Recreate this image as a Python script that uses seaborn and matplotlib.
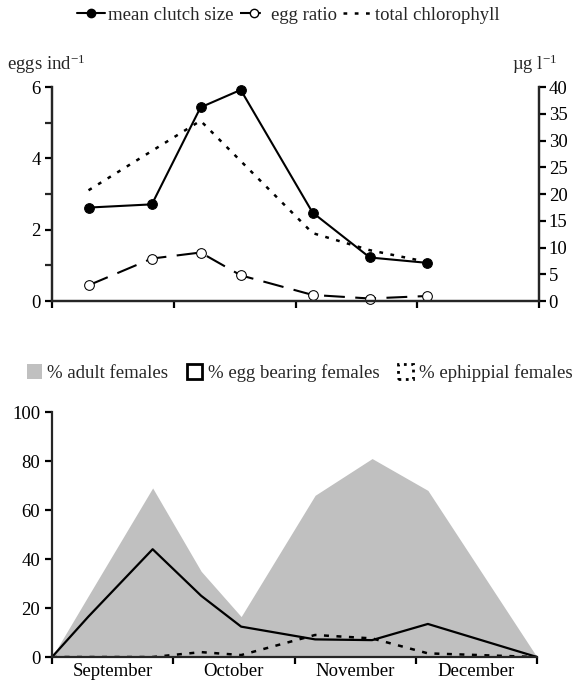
import numpy as np
import pandas as pd
import matplotlib
matplotlib.use("Agg")
import matplotlib.pyplot as plt
import seaborn as sns
from matplotlib.lines import Line2D
from matplotlib.patches import Patch

# -------------------------------
# Data
# -------------------------------
# x in month units: 0 = start of September, 4 = end of December
top_x = [0.30, 0.82, 1.22, 1.55, 2.14, 2.61, 3.08]
clutch = [2.62, 2.71, 5.43, 5.92, 2.48, 1.22, 1.07]
egg_ratio = [0.44, 1.19, 1.36, 0.72, 0.17, 0.07, 0.14]

chl_x = [0.30, 1.22, 2.14, 2.61, 3.08]
chlorophyll = [20.7, 33.7, 12.7, 9.5, 7.3]

bot_x = [0, 0.30, 0.83, 1.23, 1.56, 2.17, 2.64, 3.10, 4.0]
adult = [0, 25, 69, 35, 16.5, 66, 81, 68, 0]
egg_bearing = [0, 16.5, 44, 25, 12.4, 7.2, 6.9, 13.5, 0]
ephippial = [0, 0, 0, 2, 0.8, 9, 7.6, 1.5, 0]

months = ["September", "October", "November", "December"]

# -------------------------------
# Style
# -------------------------------
sns.set_style("ticks")
plt.rcParams['font.family'] = ['Liberation Serif', 'DejaVu Serif']
plt.rcParams['mathtext.fontset'] = 'custom'
plt.rcParams['mathtext.rm'] = 'Liberation Serif'
plt.rcParams['mathtext.default'] = 'regular'
plt.rcParams['axes.linewidth'] = 1.6
plt.rcParams['xtick.major.width'] = 1.6
plt.rcParams['ytick.major.width'] = 1.6
plt.rcParams['ytick.minor.width'] = 1.6
plt.rcParams['xtick.major.size'] = 5
plt.rcParams['ytick.major.size'] = 5
plt.rcParams['ytick.minor.size'] = 5
FS = 13.5

fig = plt.figure(figsize=(5.76, 6.81), dpi=100)

# -------------------------------
# Top panel
# -------------------------------
ax1 = fig.add_axes([0.0903, 0.558, 0.8455, 0.3142])
ax2 = ax1.twinx()

sns.lineplot(x=top_x, y=clutch, ax=ax1, color='black', lw=1.5,
             marker='o', markersize=7, markeredgecolor='black',
             markerfacecolor='black', clip_on=False)
sns.lineplot(x=top_x, y=egg_ratio, ax=ax1, color='black', lw=1.5,
             marker='o', markersize=7, markeredgecolor='black',
             markerfacecolor='white', clip_on=False)
ax1.lines[-1].set_dashes([10, 5])
sns.lineplot(x=chl_x, y=chlorophyll, ax=ax2, color='black', lw=1.8)
ax2.lines[-1].set_dashes([1.5, 3])

ax1.set_xlim(0, 4)
ax1.set_ylim(0, 6)
ax2.set_ylim(0, 40)
ax1.set_xticks([0, 1, 2, 3, 4])
ax1.set_xticklabels([])
ax1.set_yticks([0, 2, 4, 6])
ax1.set_yticks([1, 3, 5], minor=True)
ax2.set_yticks(range(0, 41, 5))
ax1.tick_params(labelsize=FS, colors='black', pad=3)
ax2.tick_params(labelsize=FS, colors='black', pad=2)
ax1.spines['top'].set_visible(False)
ax2.spines['top'].set_visible(False)
for a in (ax1, ax2):
    a.set_xlabel('')
    a.set_ylabel('')

fig.text(0.012, 1 - 64 / 681, "eggs ind$^{-1}$", fontsize=FS, va='center', ha='left')
fig.text(512 / 576, 1 - 64 / 681, "\u00b5g l$^{-1}$", fontsize=FS, va='center', ha='left')

h_top = [
    Line2D([], [], color='black', lw=1.5, marker='o', markersize=6,
           markerfacecolor='black'),
    Line2D([], [], color='black', lw=1.5, marker='o', markersize=6,
           markerfacecolor='white', dashes=[10, 5]),
    Line2D([], [], color='black', lw=1.8, dashes=[1.5, 3]),
]
fig.legend(h_top, ["mean clutch size", "egg ratio", "total chlorophyll"],
           loc='center', bbox_to_anchor=(0.5, 0.978), ncol=3, frameon=False,
           fontsize=FS, handlelength=1.5, handletextpad=0.2,
           columnspacing=0.3, borderaxespad=0)

# -------------------------------
# Bottom panel
# -------------------------------
ax3 = fig.add_axes([0.0903, 0.0352, 0.842, 0.3598])
ax3.fill_between(bot_x, adult, color='#c0c0c0', lw=0)
sns.lineplot(x=bot_x, y=egg_bearing, ax=ax3, color='black', lw=1.6)
sns.lineplot(x=bot_x, y=ephippial, ax=ax3, color='black', lw=1.8)
ax3.lines[-1].set_dashes([2, 3])

ax3.set_xlim(0, 4)
ax3.set_ylim(0, 100)
ax3.set_yticks(range(0, 101, 20))
ax3.set_xticks([0, 1, 2, 3, 4])
ax3.set_xticklabels([])
ax3.set_xticks([0.5, 1.5, 2.5, 3.5], minor=True)
ax3.set_xticklabels(months, minor=True)
ax3.tick_params(axis='x', which='minor', length=0, pad=4)
ax3.tick_params(labelsize=FS, colors='black', which='both')
ax3.set_xlabel('')
ax3.set_ylabel('')
sns.despine(ax=ax3)

h_bot = [
    Patch(facecolor='#c0c0c0', edgecolor='none'),
    Patch(facecolor='none', edgecolor='black', lw=2),
    Patch(facecolor='none', edgecolor='black', lw=2, linestyle=':'),
]
fig.legend(h_bot, ["% adult females", "% egg bearing females", "% ephippial females"],
           loc='center', bbox_to_anchor=(0.52, 0.452), ncol=3, frameon=False,
           fontsize=FS, handlelength=0.8, handleheight=0.8,
           handletextpad=0.3, columnspacing=1.0, borderaxespad=0)

plt.savefig("out.png", dpi=100)
